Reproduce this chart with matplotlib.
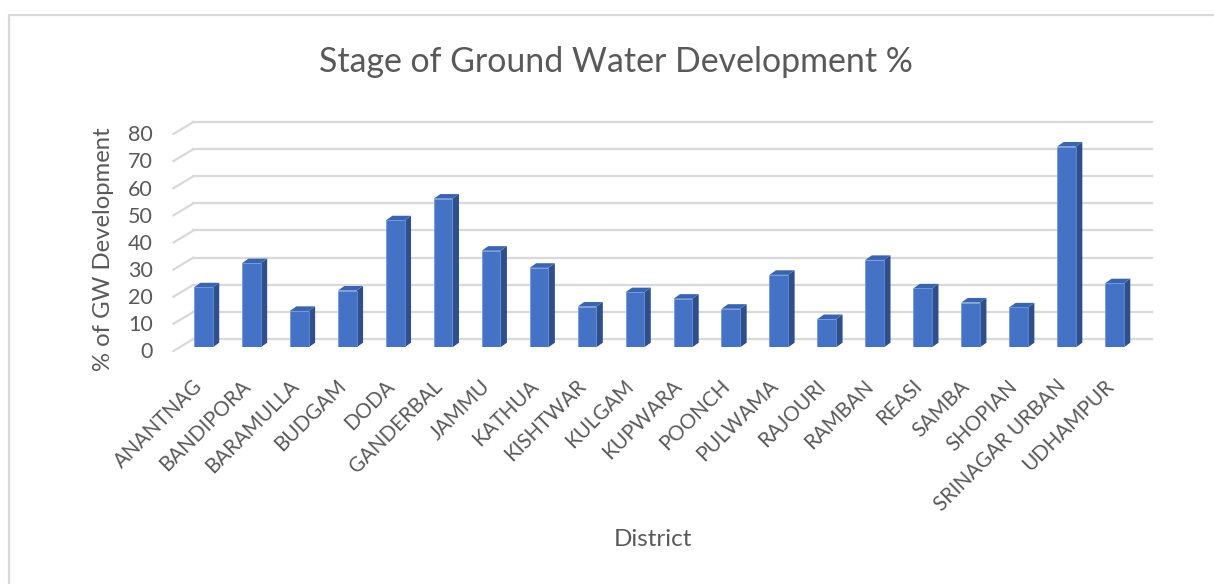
import matplotlib
matplotlib.use("Agg")
import matplotlib.pyplot as plt
from matplotlib.patches import Polygon, Rectangle
from matplotlib.transforms import ScaledTranslation
import numpy as np

# data
districts = ["ANANTNAG", "BANDIPORA", "BARAMULLA", "BUDGAM", "DODA", "GANDERBAL",
             "JAMMU", "KATHUA", "KISHTWAR", "KULGAM", "KUPWARA", "POONCH",
             "PULWAMA", "RAJOURI", "RAMBAN", "REASI", "SAMBA", "SHOPIAN",
             "SRINAGAR URBAN", "UDHAMPUR"]
gw_dev = [22.1, 31.0, 13.4, 20.9, 46.8, 54.8, 35.6, 29.3, 15.0, 20.3,
          17.9, 14.2, 26.7, 10.4, 32.2, 21.7, 16.5, 14.7, 74.0, 23.6]
y_ticks = [0, 10, 20, 30, 40, 50, 60, 70, 80]

plt.rcParams['font.family'] = ['Lato', 'DejaVu Sans']
text_col = '#595959'
grid_col = '#D9D9D9'
front_col = '#4472C4'
side_col = '#2E4F8C'
top_col = '#3A64B2'

W, H = 1214, 584
fig = plt.figure(figsize=(W / 100, H / 100), dpi=100)

# chart border
fig.add_artist(Rectangle((9 / W, -0.01), 1.02, (H - 15) / H + 0.01, transform=fig.transFigure,
                         fill=False, edgecolor=grid_col, linewidth=1.6))

# front plane of the bars
x_left, x_right = 179.4, 1138.4
y0_px, y80_px = 347.3, 130.3
ax = fig.add_axes([x_left / W, (H - y0_px) / H, (x_right - x_left) / W, (y0_px - y80_px) / H])
ax.set_xlim(-0.5, len(districts) - 0.5)
ax.set_ylim(0, 80)
for s in ax.spines.values():
    s.set_visible(False)
ax.patch.set_visible(False)


def shift(dx, dy):
    # offset in pixels (dy positive = up)
    return ScaledTranslation(dx / 100, dy / 100, fig.dpi_scale_trans)


# back wall gridlines and floor diagonals
back = ax.transData + shift(14, 8.3)
front_floor = ax.transData + shift(-6, -3.7)
for v in y_ticks:
    ax.plot([-0.5, len(districts) - 0.5], [v, v], color=grid_col, lw=1.6, transform=back,
            clip_on=False, zorder=0)
    p0 = front_floor.transform((-0.5, v))
    p1 = back.transform((-0.5, v))
    ax.plot([p0[0], p1[0]], [p0[1], p1[1]], color=grid_col, lw=1.6, transform=None,
            clip_on=False, zorder=0)

# bars
x = np.arange(len(districts))
bw = 0.39
ax.bar(x, gw_dev, width=bw, color=front_col, edgecolor='#6F93D6', linewidth=0.5, zorder=3)
dx, dy = 6.5, 4.6
for xi, v in zip(x, gw_dev):
    br = ax.transData.transform((xi + bw / 2, 0))
    tl = ax.transData.transform((xi - bw / 2, v))
    tr = ax.transData.transform((xi + bw / 2, v))
    side = [br, tr, tr + (dx, dy), br + (dx, dy)]
    top = [tl, tr, tr + (dx, dy), tl + (dx, dy)]
    ax.add_patch(Polygon(side, closed=True, transform=None, facecolor=side_col,
                         edgecolor='none', zorder=2, clip_on=False))
    ax.add_patch(Polygon(top, closed=True, transform=None, facecolor=top_col,
                         edgecolor='none', zorder=2, clip_on=False))

# y tick labels
ax.set_yticks(y_ticks)
ax.set_yticklabels([str(t) for t in y_ticks], fontsize=15.5, color=text_col)
ax.tick_params(axis='y', length=0, pad=19)
for lbl in ax.get_yticklabels():
    lbl.set_transform(lbl.get_transform() + shift(0, -3))

# x tick labels
ax.set_xticks(x)
ax.set_xticklabels(districts, fontsize=14.8, color=text_col, rotation=45, ha='right',
                   rotation_mode='anchor')
ax.tick_params(axis='x', length=0, pad=25)
for lbl in ax.get_xticklabels():
    lbl.set_transform(lbl.get_transform() + shift(-11, 6))

fig.text(616 / W, 1 - 62 / H, 'Stage of Ground Water Development %', ha='center', va='center',
         fontsize=24.4, color=text_col)
fig.text(104 / W, 1 - 249 / H, '% of GW Development', ha='center', va='center', rotation=90,
         fontsize=17.2, color=text_col)
fig.text(653 / W, 1 - 540 / H, 'District', ha='center', va='center', fontsize=17.5, color=text_col)

fig.savefig('out.png', dpi=100)
